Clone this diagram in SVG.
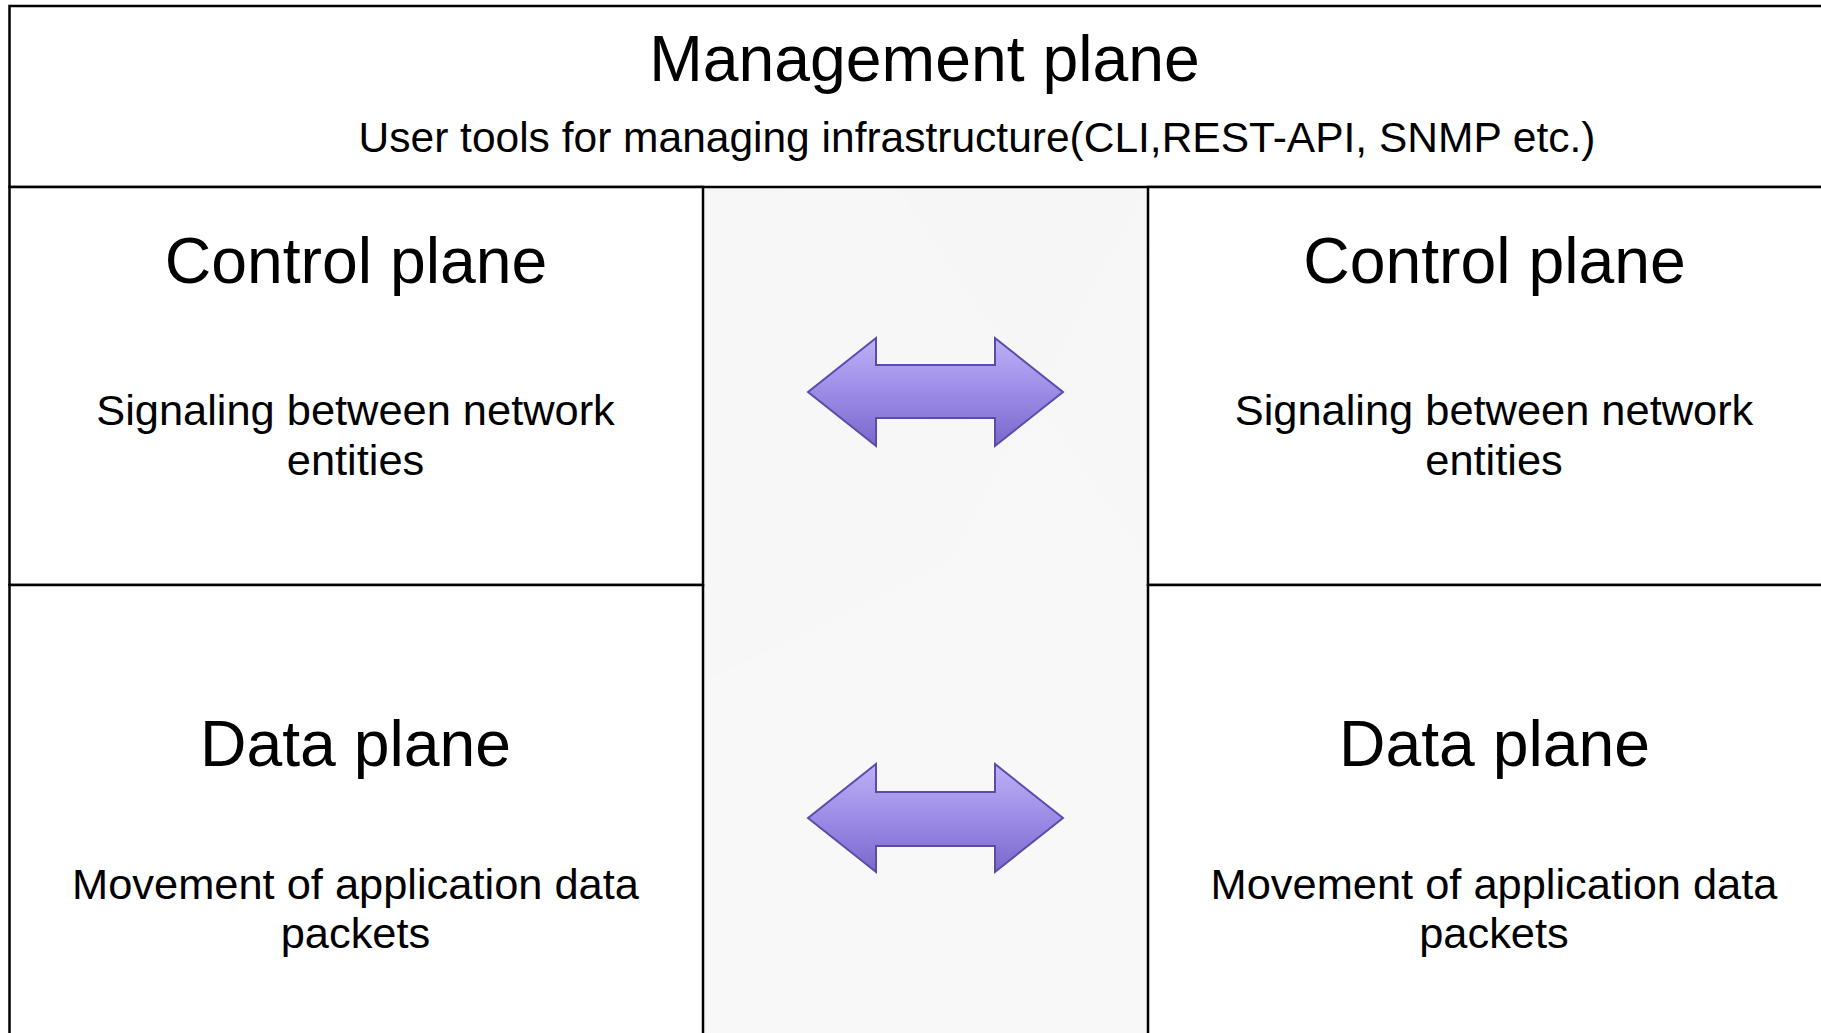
<svg xmlns="http://www.w3.org/2000/svg" width="1821" height="1033" viewBox="0 0 1821 1033">
<defs>
<linearGradient id="arrowFill" x1="0" y1="0" x2="0" y2="1">
<stop offset="0" stop-color="#bdb0f8"/>
<stop offset="0.5" stop-color="#9d8ce6"/>
<stop offset="1" stop-color="#7a68cc"/>
</linearGradient>
<linearGradient id="colFill" x1="0" y1="0" x2="1" y2="1">
<stop offset="0" stop-color="#f5f5f5"/>
<stop offset="1" stop-color="#f8f8f8"/>
</linearGradient>
</defs>
<style>
.cell{fill:#ffffff;stroke:#000000;stroke-width:2.5}
.title{font-family:"Liberation Sans",Arial,Helvetica,sans-serif;font-size:64.3px;fill:#000000;text-anchor:middle}
.body{font-family:"Liberation Sans",Arial,Helvetica,sans-serif;font-size:43.4px;fill:#000000;text-anchor:middle}
.sub{font-family:"Liberation Sans",Arial,Helvetica,sans-serif;font-size:42.5px;fill:#000000;text-anchor:middle}
.arrow{fill:url(#arrowFill);stroke:#5a4ca8;stroke-width:2;stroke-linejoin:miter}
</style>
<rect x="0" y="0" width="1821" height="1033" fill="#ffffff"/>
<g id="center-column">
<rect x="703" y="187" width="445" height="850" fill="url(#colFill)"/>
<polygon points="705,190 900,190 1146,560 1146,1033 705,1033" fill="#f9f9f9" opacity="0.6"/>
<polygon points="705,680 960,560 1146,600 1146,1033 705,1033" fill="#f8f8f8" opacity="0.7"/>
</g>
<g id="management-plane">
<rect class="cell" x="9.5" y="6" width="1840" height="181"/>
<text class="title" x="924.5" y="81">Management plane</text>
<text class="sub" x="977" y="152">User tools for managing infrastructure(CLI,REST-API, SNMP etc.)</text>
</g>
<g id="control-plane-left">
<rect class="cell" x="9.5" y="187" width="693.5" height="398"/>
<text class="title" x="356" y="283">Control plane</text>
<text class="body" x="355.5" y="425">Signaling between network</text>
<text class="body" x="355.5" y="475">entities</text>
</g>
<g id="data-plane-left">
<rect class="cell" x="9.5" y="585" width="693.5" height="460"/>
<text class="title" x="355.5" y="766">Data plane</text>
<text class="body" x="355.5" y="899">Movement of application data</text>
<text class="body" x="355.5" y="948">packets</text>
</g>
<g id="control-plane-right">
<rect class="cell" x="1148" y="187" width="700" height="398"/>
<text class="title" x="1494.5" y="283">Control plane</text>
<text class="body" x="1494" y="425">Signaling between network</text>
<text class="body" x="1494" y="475">entities</text>
</g>
<g id="data-plane-right">
<rect class="cell" x="1148" y="585" width="700" height="460"/>
<text class="title" x="1494.5" y="766">Data plane</text>
<text class="body" x="1494" y="899">Movement of application data</text>
<text class="body" x="1494" y="948">packets</text>
</g>
<g id="connectors">
<polygon class="arrow" points="808,392 876,338 876,365 995,365 995,338 1063,392 995,446 995,418 876,418 876,446"/>
<polygon class="arrow" points="808,818 876,764 876,792 995,792 995,764 1063,818 995,872 995,846 876,846 876,872"/>
</g>
</svg>
